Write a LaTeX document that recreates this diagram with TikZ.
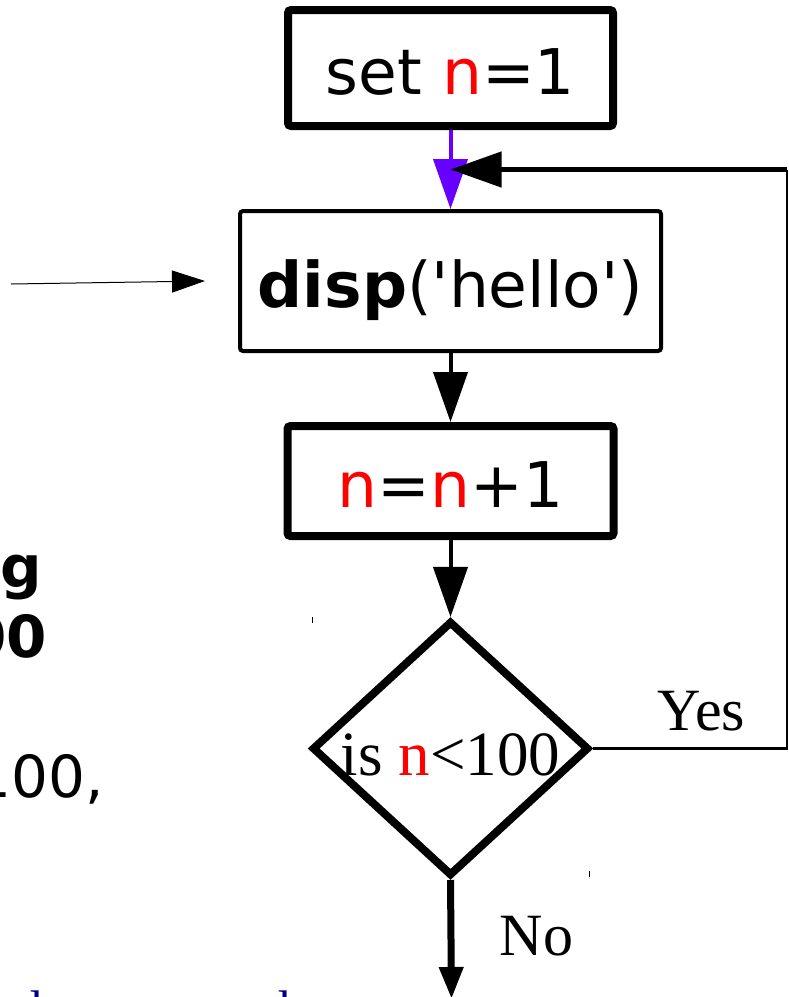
\documentclass[tikz,border=0pt]{standalone}
\usepackage{fontspec}
\setmainfont{Liberation Serif}
\setsansfont{DejaVu Sans}[Ligatures=TeXOff]
\usetikzlibrary{shapes.geometric,arrows.meta,positioning,calc}
\definecolor{nred}{HTML}{FF0000}
\definecolor{flowviolet}{HTML}{6600FF}
\definecolor{txtnavy}{HTML}{000080}
\tikzset{
  box style/.style={rectangle, rounded corners=3pt, draw, line width=8pt,
    minimum width=325pt, minimum height=116pt, inner sep=0pt,
    text height=52pt, text depth=0pt, font=\sffamily\fontsize{63}{70}\selectfont},
  thin box/.style={box style, line width=4pt, minimum width=421pt, minimum height=140pt},
  dec style/.style={diamond, aspect=1.086, draw, line width=8pt, minimum width=277pt, minimum height=255pt,
    inner sep=0pt, text height=53pt, text depth=0pt, font=\fontsize{63}{70}\selectfont},
  arr style/.style={-{Triangle[length=50pt, width=34pt]}, line width=4pt},
  loop arr/.style={-{Triangle[length=51pt, width=35pt]}, line width=4.5pt},
  out arr/.style={-{Triangle[length=32pt, width=23pt]}, line width=7pt},
  in arr/.style={-{Triangle[length=33pt, width=22pt]}, line width=1pt},
  lbl style/.style={anchor=base, inner sep=0pt, font=\fontsize{60}{70}\selectfont},
  frag style/.style={anchor=base east, inner sep=0pt, font=\sffamily\fontsize{58}{68}\selectfont}
}
\newcommand{\nv}{\textcolor{nred}{n}}

\begin{document}
\begin{tikzpicture}[x=1pt, y=1pt]
\useasboundingbox (0,0) rectangle (788,-997);
\clip (0,0) rectangle (788,-997);

\node[box style] (set) at (450.5,-68) {set \nv=1};
\node[thin box, below=79pt of set] (disp) {\textbf{disp}('hello')};
\node[box style, minimum width=326pt, minimum height=110pt, below=69pt of disp] (inc) {\nv=\nv+1};
\node[dec style, below=77pt of inc] (dia) {is \nv<100};

\coordinate (loopin) at ($(set.south)!.5!(disp.north)$);
\coordinate (rt) at (787,0);
\coordinate (start) at (11,-284);
\coordinate (end) at (451.5,-999);

\draw[arr style, flowviolet] (set) -- (disp);
\draw[arr style] (disp) -- (inc);
\draw[arr style] (inc) -- (dia);
\draw[line width=2.5pt] (dia.east) -- (dia.east -| rt) -- (rt |- loopin);
\draw[loop arr] (rt |- loopin) -- (loopin);
\draw[out arr] (dia.south) -- (end);
\draw[in arr] (start) -- ([xshift=-33pt]disp.west);

\node[lbl style] (yes) at (701.5,-730) {Yes};
\node[lbl style] (no) at (536.5,-955) {No};

% small marks at the diamond corners
\draw[line width=1pt] ($(dia.north -| dia.west)+(4,0)$) -- ++(0,-6);
\draw[line width=1pt] ($(dia.south -| dia.east)+(-4,3)$) -- ++(0,6);

% text cut off at the left edge
\node[frag style] (frag1) at (42,-587) {\bfseries g};
\node[frag style] (frag2) at (47,-657) {\bfseries 00};
\node[frag style] (frag3) at (104,-797) {100,};
\node[anchor=base west, inner sep=0pt, text=txtnavy, font=\fontsize{50}{60}\selectfont] (frag4) at (17,-1025) {d};
\node[anchor=base west, inner sep=0pt, text=txtnavy, font=\fontsize{50}{60}\selectfont] (frag5) at (265,-1025) {d};

\end{tikzpicture}
\end{document}
